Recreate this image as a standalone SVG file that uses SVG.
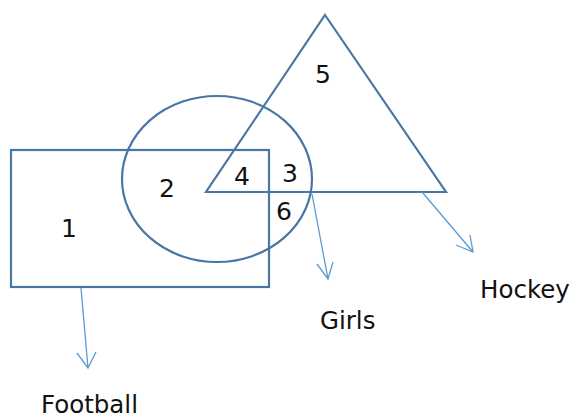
<svg xmlns="http://www.w3.org/2000/svg" width="574" height="417" viewBox="0 0 574 417">
<defs>
<style>
.shape{fill:none;stroke:#4a76a6;stroke-width:2.2}
.arr{fill:none;stroke:#5b9bd5;stroke-width:1.3}
.num{font-family:"DejaVu Sans",sans-serif;font-size:25px;fill:#111;text-anchor:middle}
.lbl{font-family:"DejaVu Sans",sans-serif;font-size:24.5px;fill:#111}
</style>
</defs>
<rect width="574" height="417" fill="#fff"/>
<g id="football"><rect class="shape" x="11" y="150" width="258" height="137"/></g>
<g id="girls"><ellipse class="shape" cx="217" cy="179" rx="95" ry="83"/></g>
<g id="hockey"><polygon class="shape" points="325,15 446,192 206,192"/></g>
<g id="connectors">
<path class="arr" d="M81,288 L88,368 M77,353 L88,368 L96,352"/>
<path class="arr" d="M312,194 L328,279 M317,264 L328,279 L333,262"/>
<path class="arr" d="M422,192 L473,252 M456,245 L473,252 L470,235"/>
</g>
<g id="numbers">
<text class="num" x="69" y="237">1</text>
<text class="num" x="167" y="197">2</text>
<text class="num" x="242" y="185">4</text>
<text class="num" x="290" y="182">3</text>
<text class="num" x="284" y="220">6</text>
<text class="num" x="323" y="83">5</text>
</g>
<g id="labels">
<text class="lbl" x="41" y="413">Football</text>
<text class="lbl" x="320" y="329">Girls</text>
<text class="lbl" x="480" y="298">Hockey</text>
</g>
</svg>
